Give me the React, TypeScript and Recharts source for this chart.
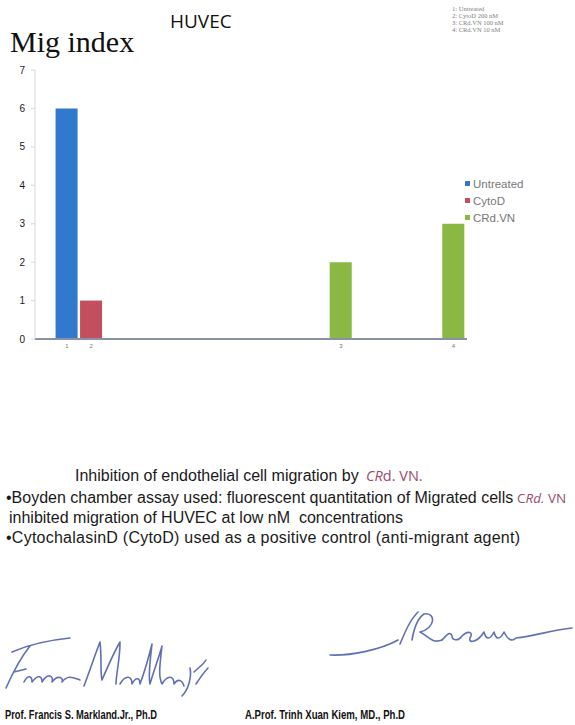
import React from "react";
import { Bar, BarChart, Legend, XAxis, YAxis } from "recharts";

// sample numbers under the bars and where each one sits on the x scale
const categories = ["1", "2", "3", "4"];
const categoryAt = [1, 2, 12.2, 16.8];

// migration index per sample, one array per treatment
const untreated = [6, null, null, null];
const cytoD = [null, 1, null, null];
const crdVN = [null, null, 2, 3];

const seriesNames = ["Untreated", "CytoD", "CRd.VN"];
const yTicks = [0, 1, 2, 3, 4, 5, 6, 7];

const sampleKey = ["1: Untreated", "2: CytoD 200 nM", "3: CRd.VN 100 nM", "4: CRd.VN 10 nM"];

const data = categories.map((label, i) => ({
  label,
  x: categoryAt[i],
  untreated: untreated[i],
  cytoD: cytoD[i],
  crdVN: crdVN[i],
}));

const SANS = "Arial, 'Liberation Sans', sans-serif";
const MAUVE = "#9b4a6c";

function renderLegend(props: any) {
  const payload = [...(props.payload ?? [])].sort(
    (a: any, b: any) => seriesNames.indexOf(a.value) - seriesNames.indexOf(b.value)
  );
  return (
    <div style={{ fontFamily: SANS, fontSize: 11.5, color: "#777" }}>
      {payload.map((item: any) => (
        <div key={item.value} style={{ display: "flex", alignItems: "center", height: 17 }}>
          <span
            style={{ display: "inline-block", width: 5, height: 5, background: item.color, marginRight: 3 }}
          />
          {item.value}
        </div>
      ))}
    </div>
  );
}

export default function App() {
  return (
    <div
      style={{
        position: "absolute",
        left: 0,
        top: 0,
        width: 575,
        height: 725,
        background: "#fff",
        overflow: "hidden",
      }}
    >
      <BarChart width={575} height={360} data={data} margin={{ top: 70, right: 108, bottom: 6, left: 0 }}>
        <XAxis
          type="number"
          dataKey="x"
          domain={[-0.3, 17.35]}
          ticks={categoryAt}
          tickFormatter={(v: number) => categories[categoryAt.indexOf(v)] ?? ""}
          allowDataOverflow
          height={15}
          tickLine={false}
          tickSize={0}
          tickMargin={5}
          axisLine={{ stroke: "#8a90a8", strokeWidth: 2 }}
          tick={{ fill: "#777", fontSize: 6, fontFamily: SANS }}
        />
        <YAxis
          domain={[0, 7]}
          ticks={yTicks}
          interval={0}
          width={35}
          tickSize={4}
          tickMargin={6}
          axisLine={{ stroke: "#d9d9d9" }}
          tickLine={{ stroke: "#d9d9d9" }}
          tick={{ fill: "#1a1a1a", fontSize: 10, fontFamily: SANS }}
        />
        <Legend
          layout="vertical"
          align="center"
          verticalAlign="middle"
          content={renderLegend}
          wrapperStyle={{ left: 465, top: 175, width: 95 }}
        />
        <Bar dataKey="untreated" name="Untreated" stackId="s" fill="#3079cc" barSize={25} isAnimationActive={false} />
        <Bar dataKey="cytoD" name="CytoD" stackId="s" fill="#c24f5e" barSize={25} isAnimationActive={false} />
        <Bar dataKey="crdVN" name="CRd.VN" stackId="s" fill="#8bb843" barSize={25} isAnimationActive={false} />
      </BarChart>

      <svg
        width={575}
        height={725}
        style={{ position: "absolute", left: 0, top: 0, pointerEvents: "none" }}
      >
        <text x={10} y={52} fontFamily="'Liberation Serif', 'Times New Roman', serif" fontSize={30} fill="#111">
          Mig index
        </text>
        <text x={170} y={28} fontFamily="'Open Sans', sans-serif" fontSize={19} fill="#111">
          HUVEC
        </text>
        {sampleKey.map((line, i) => (
          <text
            key={line}
            x={452}
            y={11 + i * 7}
            fontFamily="'Liberation Serif', serif"
            fontSize={6.5}
            fill="#808080"
          >
            {line}
          </text>
        ))}

        <g fontFamily={SANS} fontSize={16} fill="#1a1a1a">
          <text x={75} y={481}>Inhibition of endothelial cell migration by</text>
          <text x={366} y={481} fontFamily="'Open Sans', sans-serif" fontSize={14.5} fill={MAUVE}>
            <tspan fontStyle="italic">CR</tspan>d. VN.
          </text>
          <text x={6} y={503}>•Boyden chamber assay used: fluorescent quantitation of Migrated cells</text>
          <text x={517} y={503} fontFamily="'Open Sans', sans-serif" fontSize={13.5} fill={MAUVE}>
            C<tspan fontStyle="italic">Rd.</tspan> VN
          </text>
          <text x={9} y={523}>inhibited migration of HUVEC at low nM{"\u00a0"} concentrations</text>
          <text x={6} y={543} textLength={514}>
            •CytochalasinD (CytoD) used as a positive control (anti-migrant agent)
          </text>
        </g>

        <g fill="none" stroke="#4657a8" strokeWidth={1.6} strokeLinecap="round" strokeLinejoin="round" opacity={0.85}>
          <path d="M6 688 C 14 670, 22 656, 30 646 M12 652 C 30 644, 50 640, 70 638 M14 672 L 26 669" />
          <path d="M24 682 C 28 674, 32 676, 32 682 C 38 674, 42 676, 42 682 C 48 672, 54 676, 52 682 C 58 674, 64 678, 62 682 C 68 674, 74 678, 80 680" />
          <path d="M84 686 C 90 670, 96 652, 100 642 C 102 658, 100 672, 102 680 C 108 666, 114 652, 120 642 C 120 660, 116 674, 116 684" />
          <path d="M120 684 C 126 674, 132 676, 132 684 C 136 676, 140 678, 140 684 C 146 668, 150 652, 152 644 C 150 662, 148 676, 150 684 C 154 670, 160 654, 162 646 C 160 664, 158 676, 162 684 C 168 674, 174 676, 174 684 C 178 678, 182 680, 184 686" />
          <path d="M190 668 C 192 678, 188 690, 182 696 M194 672 C 198 668, 204 664, 206 660 M196 684 C 200 678, 204 672, 208 668" />
          <path d="M330 655 C 350 656, 380 650, 398 640 M400 644 C 405 632, 410 620, 418 612 M412 640 C 414 628, 418 618, 424 614 C 436 612, 436 628, 420 632 C 428 636, 432 644, 442 640" />
          <path d="M442 640 C 446 636, 450 630, 452 636 C 452 640, 458 642, 462 636 C 468 630, 474 632, 470 638 C 468 644, 478 642, 484 632 C 486 640, 490 640, 494 632 C 496 640, 500 640, 504 632 C 508 640, 512 642, 516 638 C 535 636, 552 630, 572 628" />
        </g>

        <g fontFamily={SANS} fontWeight="bold" fontSize={12.5} fill="#111">
          <text x={5} y={719} textLength={152} lengthAdjust="spacingAndGlyphs">
            Prof. Francis S. Markland.Jr., Ph.D
          </text>
          <text x={245} y={719} textLength={160} lengthAdjust="spacingAndGlyphs">
            A.Prof. Trinh Xuan Kiem, MD., Ph.D
          </text>
        </g>
      </svg>
    </div>
  );
}
